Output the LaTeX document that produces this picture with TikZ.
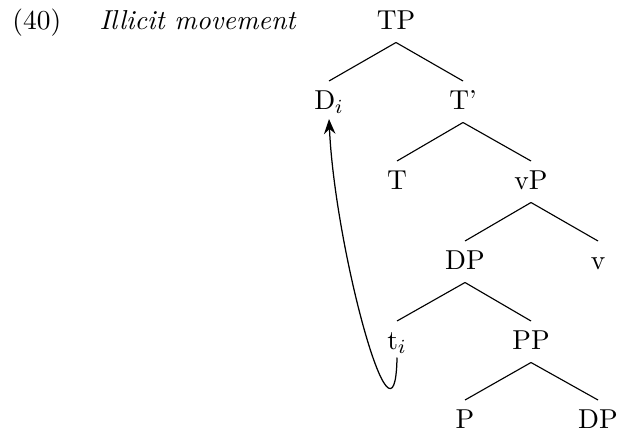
\documentclass[tikz,border=0pt]{standalone}
\usetikzlibrary{arrows.meta}
\begin{document}
\begin{tikzpicture}[x=0.4pt,y=-0.4pt,
  every node/.style={font=\fontsize{10.95}{13.6}\selectfont},
  lbl/.style={anchor=base,inner sep=0pt},
  branch/.style={line width=0.45pt},
  move/.style={line width=0.5pt,-{Stealth[length=6pt,width=4.6pt,inset=2pt]}}]
\useasboundingbox (0,0) rectangle (617,433);
\node[lbl,anchor=base west] (num) at (12,29) {(40)};
\node[lbl,anchor=base west] (title) at (99,29) {\itshape Illicit movement};
\node[lbl] (TP) at (396,29) {TP};
\node[lbl] (D) at (329,109) {D$_i$};
\node[lbl] (Tb) at (463,109) {T'};
\node[lbl] (T) at (397,189) {T};
\node[lbl] (vP) at (531,189) {vP};
\node[lbl] (DP) at (465,269) {DP};
\node[lbl] (v) at (598,269) {v};
\node[lbl] (t) at (397,349) {t$_i$};
\node[lbl] (PP) at (531,349) {PP};
\node[lbl] (P) at (465,428) {P};
\node[lbl] (DP2) at (598,428) {DP};
\foreach \p/\c in {TP/D,TP/Tb,Tb/T,Tb/vP,vP/DP,vP/v,DP/t,DP/PP,PP/P,PP/DP2}
  \draw[branch] ([yshift=-5.4pt]\p.base) -- ([yshift=11.2pt]\c.base);
\draw[move] ([yshift=-3.4pt]t.base) .. controls (395,470) and (335,250) .. ([yshift=-4pt]D.base);
\end{tikzpicture}
\end{document}
